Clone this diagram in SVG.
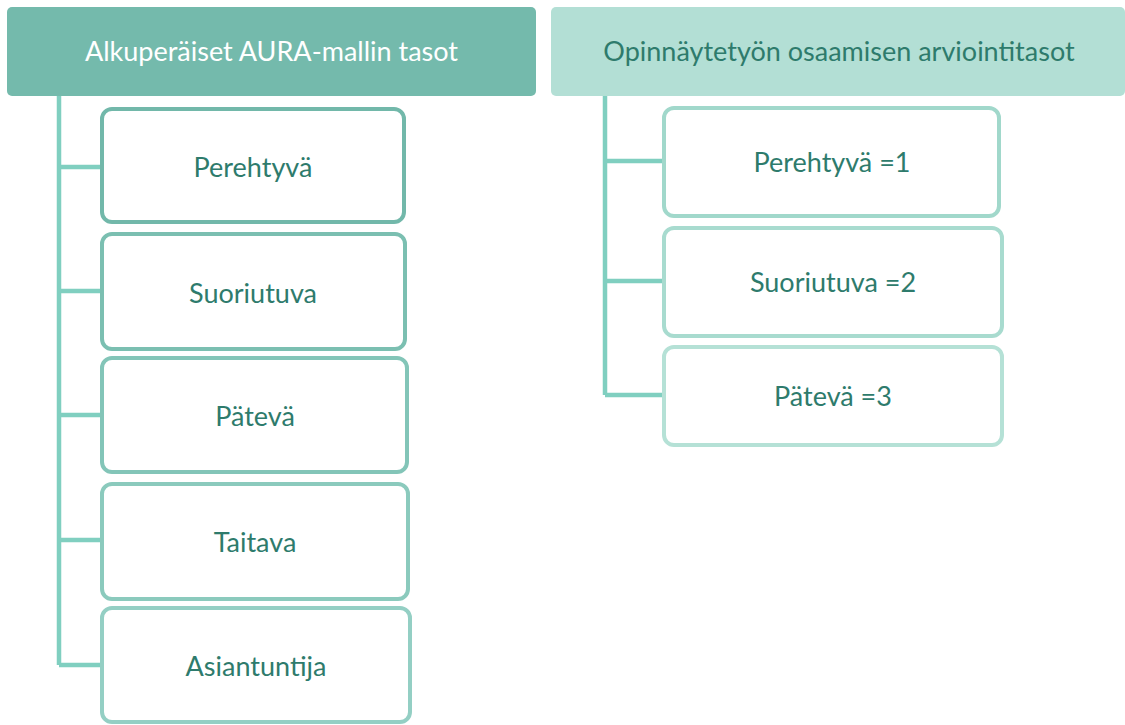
<svg xmlns="http://www.w3.org/2000/svg" width="1125" height="725" viewBox="0 0 1125 725">
<style>
text{font-family:Lato,"Open Sans","Liberation Sans",sans-serif;font-size:27px;text-anchor:middle;dominant-baseline:central;fill:#2E7B6C}
.box{fill:#fff;stroke-width:4}
.conn{fill:none;stroke:#80CFC0;stroke-width:4.5}
</style>
<rect width="1125" height="725" fill="#fff"/>
<g id="connectors">
<path class="conn" d="M59 96V665M59 167H102M59 291H102M59 415H102M59 540H102M59 665H102"/>
<path class="conn" d="M605 96V395M605 161H663M605 281H663M605 395H663"/>
</g>
<g id="header-left">
<rect x="7" y="7" width="529" height="89" rx="5" fill="#74BAAC"/>
<text x="271.5" y="50" style="fill:#fff">Alkuperäiset AURA-mallin tasot</text>
</g>
<g id="header-right">
<rect x="551" y="7" width="574" height="89" rx="5" fill="#B3DFD5"/>
<text x="839" y="50">Opinnäytetyön osaamisen arviointitasot</text>
</g>
<g id="l1"><rect class="box" x="102" y="109" width="302" height="113" rx="10" stroke="#72B8AA"/><text x="253" y="166">Perehtyvä</text></g>
<g id="l2"><rect class="box" x="102" y="234" width="303" height="115" rx="10" stroke="#7BBFB1"/><text x="253" y="292">Suoriutuva</text></g>
<g id="l3"><rect class="box" x="102" y="358" width="305" height="114" rx="10" stroke="#83C5B8"/><text x="255" y="415">Pätevä</text></g>
<g id="l4"><rect class="box" x="102" y="484" width="306" height="115" rx="10" stroke="#8BCABD"/><text x="255" y="541">Taitava</text></g>
<g id="l5"><rect class="box" x="102" y="608" width="308" height="114" rx="10" stroke="#94CFC4"/><text x="256" y="665">Asiantuntija</text></g>
<g id="r1"><rect class="box" x="664" y="108" width="335" height="108" rx="10" stroke="#A1D8CB"/><text x="832" y="161">Perehtyvä =1</text></g>
<g id="r2"><rect class="box" x="664" y="228" width="338" height="108" rx="10" stroke="#A8DBCF"/><text x="833" y="281">Suoriutuva =2</text></g>
<g id="r3"><rect class="box" x="664" y="347" width="338" height="98" rx="10" stroke="#B5E1D6"/><text x="833" y="395">Pätevä =3</text></g>
</svg>
